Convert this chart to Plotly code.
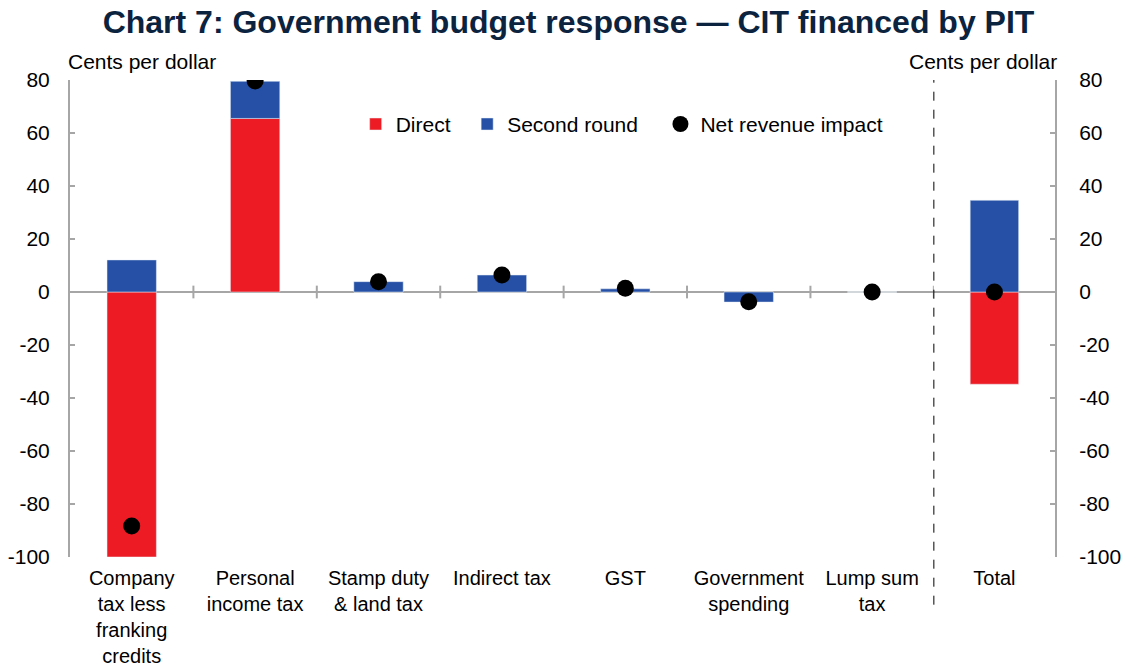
import plotly.graph_objects as go

categories = ["Company<br>tax less<br>franking<br>credits", "Personal<br>income tax",
              "Stamp duty<br>& land tax", "Indirect tax", "GST",
              "Government<br>spending", "Lump sum<br>tax"]
direct = [-100, 65.5, 0, 0, 0, 0, 0]
second_round = [12.1, 14, 3.9, 6.4, 1.2, -3.8, 0]
net_impact = [-88.3, 79.6, 3.9, 6.4, 1.4, -3.7, 0]

total_cat = ["Total"]
total_direct = [-34.8]
total_second = [34.6]
total_net = [0]

y_ticks = [-100, -80, -60, -40, -20, 0, 20, 40, 60, 80]
y_ticktext = ["-100", "-80", "-60", "-40", "-20", "0", "20", "40", "60", "80"]

RED = "#ED1C24"
BLUE = "#2550A5"
GREY = "#A6A6A6"
FONT = "Liberation Sans, Arial, sans-serif"
FS = 21
NB = "\u00a0"

fig = go.Figure()

# main categories on x / y
fig.add_trace(go.Bar(x=categories, y=direct, name="Direct" + NB * 2, marker_color=RED,
                     width=0.4, xaxis="x", yaxis="y"))
fig.add_trace(go.Bar(x=categories, y=second_round, name="Second round" + NB * 3, marker_color=BLUE,
                     width=0.4, xaxis="x", yaxis="y"))
fig.add_trace(go.Scatter(x=categories, y=net_impact, name="Net revenue impact", mode="markers",
                         marker=dict(color="black", size=17), xaxis="x", yaxis="y"))

# total on its own x axis, right-hand y axis
fig.add_trace(go.Bar(x=total_cat, y=total_direct, marker_color=RED, width=0.4,
                     showlegend=False, xaxis="x2", yaxis="y2"))
fig.add_trace(go.Bar(x=total_cat, y=total_second, marker_color=BLUE, width=0.4,
                     showlegend=False, xaxis="x2", yaxis="y2"))
fig.add_trace(go.Scatter(x=total_cat, y=total_net, mode="markers", showlegend=False,
                         marker=dict(color="black", size=17), xaxis="x2", yaxis="y2"))

split = 0.877
yrange = [-100, 80]

# small ticks on the zero line between categories
for i in range(len(categories)):
    fig.add_shape(type="line", xref="x", yref="y", x0=i + 0.5, x1=i + 0.5, y0=-2.4, y1=2.4,
                  line=dict(color=GREY, width=2))

# dashed separator before Total
fig.add_shape(type="line", xref="paper", yref="paper", x0=split, x1=split, y0=-0.1, y1=1,
              line=dict(color="black", width=1, dash="dash"))

yax = dict(range=yrange, tickvals=y_ticks, ticktext=y_ticktext, showgrid=False, showline=True,
           linecolor=GREY, linewidth=2, ticks="inside", ticklen=5, tickcolor=GREY, tickwidth=2,
           zeroline=True, zerolinecolor=GREY, zerolinewidth=2,
           automargin=False, tickfont=dict(size=FS))
xax = dict(showline=False, ticks="", showgrid=False, zeroline=False, automargin=False,
           ticklabelstandoff=7, tickfont=dict(size=20))

fig.update_layout(
    width=1121, height=661,
    barmode="relative",
    plot_bgcolor="white", paper_bgcolor="white",
    margin=dict(l=62, r=74, t=72, b=112),
    font=dict(family=FONT, size=FS, color="black"),
    title=dict(text="<b>Chart 7: Government budget response — CIT financed by PIT</b>",
               x=0.5, xanchor="center", y=0.979, yanchor="middle",
               font=dict(family=FONT, size=32, color="#0C2340")),
    xaxis=dict(xax, domain=[0, split], anchor="y", range=[-0.5, len(categories) - 0.5]),
    xaxis2=dict(xax, domain=[split, 1], anchor="y2"),
    yaxis=dict(yax, anchor="x", ticklabelstandoff=14),
    yaxis2=dict(yax, anchor="x2", side="right", ticklabelstandoff=18),
    legend=dict(orientation="h", x=0.29, y=0.907, xanchor="left", yanchor="middle",
                font=dict(size=FS), itemwidth=30, bgcolor="rgba(0,0,0,0)"),
    annotations=[
        dict(text="Cents per dollar", xref="paper", yref="paper", x=-0.004, y=1.038,
             xanchor="left", yanchor="middle", showarrow=False, font=dict(size=FS)),
        dict(text="Cents per dollar", xref="paper", yref="paper", x=1.004, y=1.038,
             xanchor="right", yanchor="middle", showarrow=False, font=dict(size=FS)),
    ],
)

fig.write_html("out.html")
